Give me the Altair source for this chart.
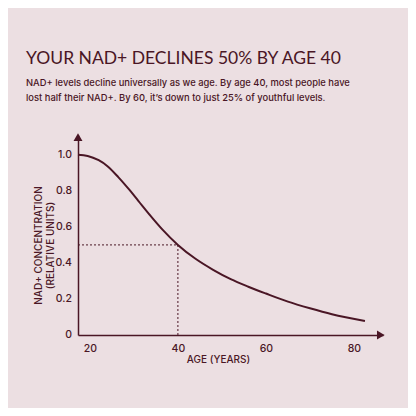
import altair as alt
import pandas as pd

ages = [17.3, 19.5, 22, 24, 26.5, 29, 31, 33.5, 36.5, 40, 44, 48, 52, 56, 60, 65, 70, 75, 82.5]
levels = [1.0, 0.994, 0.97, 0.937, 0.875, 0.805, 0.745, 0.67, 0.585, 0.5,
          0.423, 0.362, 0.31, 0.268, 0.23, 0.185, 0.148, 0.115, 0.078]

ref_age = [40]
ref_level = [0.5]

x_ticks = [20, 40, 60, 80]
y_ticks = [0, 0.2, 0.4, 0.6, 0.8, 1.0]
y_tick_labels = ["0", "0.2", "0.4", "0.6", "0.8", "1.0"]

X_MIN, X_MAX = 17.3, 86.6
Y_MIN, Y_MAX = 0, 1.11

BG = "#ECDFE2"
INK = "#4A1625"
FONT = "Inter"

curve = pd.DataFrame({"age": ages, "level": levels})
xs = alt.Scale(domain=[X_MIN, X_MAX], nice=False, zero=False)
ys = alt.Scale(domain=[Y_MIN, Y_MAX], nice=False)

line = alt.Chart(curve).mark_line(color=INK, strokeWidth=2, interpolate="monotone").encode(
    x=alt.X("age:Q", scale=xs, axis=alt.Axis(
        values=x_ticks, title="AGE (YEARS)", grid=False, ticks=False,
        domainColor=INK, domainWidth=1.5, labelColor=INK, labelFontSize=10.5,
        labelFont=FONT, labelFontWeight=500, labelPadding=8, labelOverlap=False,
        titleColor=INK, titleFont=FONT,
        titleFontSize=10, titleFontWeight=500, titleX=140, titleY=27,
        titleBaseline="alphabetic", titleAnchor="start", titleAlign="center")),
    y=alt.Y("level:Q", scale=ys, axis=alt.Axis(
        values=y_ticks, labels=False, title=["NAD+ CONCENTRATION", "(RELATIVE UNITS)"],
        grid=False, ticks=False, domainColor=INK, domainWidth=1.5,
        titleColor=INK, titleFont=FONT, titleFontSize=10, titleFontWeight=500,
        titleAngle=-90, titleX=-37, titleY=110, titleBaseline="alphabetic",
        titleAlign="center", titleLineHeight=12.5)),
)

ylab = alt.Chart(pd.DataFrame({"age": [X_MIN] * len(y_ticks), "level": y_ticks,
                               "lab": y_tick_labels})).mark_text(
    align="right", baseline="middle", dx=-6, font=FONT, fontSize=10.5,
    fontWeight=500, color=INK).encode(
    x=alt.X("age:Q", scale=xs), y=alt.Y("level:Q", scale=ys), text="lab:N")

hdf = pd.DataFrame({"age": [X_MIN], "age2": ref_age, "level": ref_level})
hrule = alt.Chart(hdf).mark_rule(color=INK, strokeWidth=1, strokeDash=[2, 2]).encode(
    x=alt.X("age:Q", scale=xs), x2="age2:Q", y=alt.Y("level:Q", scale=ys))

vdf = pd.DataFrame({"age": ref_age, "level": [0], "level2": ref_level})
vrule = alt.Chart(vdf).mark_rule(color=INK, strokeWidth=1, strokeDash=[2, 2]).encode(
    x=alt.X("age:Q", scale=xs), y=alt.Y("level:Q", scale=ys), y2="level2:Q")

arr_up = alt.Chart(pd.DataFrame({"age": [X_MIN], "level": [Y_MAX - 0.015]})).mark_point(
    shape="triangle-up", filled=True, fill=INK, stroke=INK, size=30, opacity=1).encode(
    x=alt.X("age:Q", scale=xs), y=alt.Y("level:Q", scale=ys))
arr_right = alt.Chart(pd.DataFrame({"age": [X_MAX - 0.6], "level": [0]})).mark_point(
    shape="triangle-right", filled=True, fill=INK, stroke=INK, size=30, opacity=1).encode(
    x=alt.X("age:Q", scale=xs), y=alt.Y("level:Q", scale=ys))

chart = alt.layer(line, hrule, vrule, arr_up, arr_right, ylab).properties(
    width=305, height=200,
    autosize=alt.AutoSizeParams(type="none"),
    padding={"left": 70, "top": 127, "right": 25, "bottom": 73},
    background=BG,
    title=alt.TitleParams(
        text="YOUR NAD+ DECLINES 50% BY AGE 40",
        subtitle=["NAD+ levels decline universally as we age. By age 40, most people have",
                  "lost half their NAD+. By 60, it\u2019s down to just 25% of youthful levels."],
        anchor="start", frame="group", dx=-52, offset=29,
        font="Lato", fontSize=17.5, fontWeight="normal", color=INK,
        subtitleFont=FONT, subtitleFontSize=9.4, subtitleFontWeight=500,
        subtitleColor=INK, subtitleLineHeight=14.5, subtitlePadding=12),
).configure_view(stroke=None)

chart.save("out.html", embed_options={"renderer": "svg", "actions": False})
